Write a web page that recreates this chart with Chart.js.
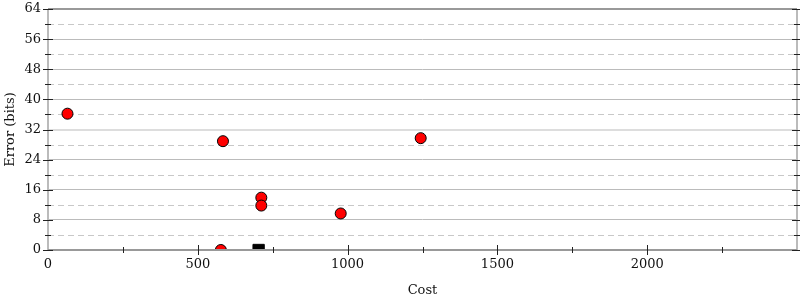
<!DOCTYPE html>
<html lang="en">
<head>
<meta charset="UTF-8">
<title>Error vs Cost</title>
<script src="https://cdn.jsdelivr.net/npm/chart.js"></script>
<style>
  html, body { margin: 0; padding: 0; background: #fff; overflow: hidden; }
  #wrap { width: 806px; height: 300px; }
</style>
</head>
<body>
<div id="wrap"><canvas id="chart"></canvas></div>
<script>
// measured points (cost, error in bits)
const costs = [65, 584, 577, 712, 712, 977, 1244];
const errors = [36.2, 28.9, 0, 13.9, 11.8, 9.7, 29.7];
// reference point (black square)
const refCost = [703];
const refError = [0];
const xMax = 2500;
const yMax = 64;
const xLabelStep = 500;
const yLabelStep = 8;

const font = { family: "'DejaVu Serif', serif", size: 13 };

// dashed minor grid, axis lines and tick marks on both sides of the axes
const axisDecor = {
    id: 'axisDecor',
    beforeDatasetsDraw(chart) {
        const { ctx, chartArea: a, scales: { y } } = chart;
        ctx.save();
        ctx.strokeStyle = '#c8c8c8';
        ctx.lineWidth = 1;
        ctx.setLineDash([6, 4]);
        y.ticks.forEach(t => {
            if (t.value % yLabelStep === 0) return;
            const py = Math.round(y.getPixelForValue(t.value)) + 0.5;
            ctx.beginPath();
            ctx.moveTo(a.left, py);
            ctx.lineTo(a.right, py);
            ctx.stroke();
        });
        ctx.restore();
    },
    afterDatasetsDraw(chart) {
        const { ctx, chartArea: a, scales: { x, y } } = chart;
        ctx.save();
        ctx.lineWidth = 2;
        ctx.strokeStyle = '#bbbbbb';
        ctx.beginPath();
        ctx.moveTo(a.left, a.top); ctx.lineTo(a.left, a.bottom);
        ctx.moveTo(a.right, a.top); ctx.lineTo(a.right, a.bottom);
        ctx.stroke();
        ctx.strokeStyle = '#999999';
        ctx.beginPath();
        ctx.moveTo(a.left, a.bottom); ctx.lineTo(a.right, a.bottom);
        ctx.stroke();

        ctx.strokeStyle = '#222';
        ctx.lineWidth = 1;
        y.ticks.forEach(t => {
            const py = Math.round(y.getPixelForValue(t.value)) + 0.5;
            const len = t.value % yLabelStep === 0 ? 5 : 3;
            ctx.beginPath();
            ctx.moveTo(a.left - len, py); ctx.lineTo(a.left + len, py);
            ctx.moveTo(a.right - len, py); ctx.lineTo(a.right + len, py);
            ctx.stroke();
        });
        x.ticks.forEach(t => {
            if (t.value === 0 || t.value === xMax) return;
            const px = Math.round(x.getPixelForValue(t.value)) + 0.5;
            const len = t.value % xLabelStep === 0 ? 5 : 3;
            ctx.beginPath();
            ctx.moveTo(px, a.bottom - len); ctx.lineTo(px, a.bottom + len);
            ctx.stroke();
        });
        ctx.restore();
    }
};

new Chart(document.getElementById('chart'), {
    type: 'scatter',
    data: {
        datasets: [
            {
                label: 'measured',
                data: costs.map((c, i) => ({ x: c, y: errors[i] })),
                backgroundColor: '#ff0000',
                borderColor: '#000',
                borderWidth: 1,
                pointRadius: 5.5,
                pointHoverRadius: 5.5,
                clip: 0
            },
            {
                label: 'reference',
                data: refCost.map((c, i) => ({ x: c, y: refError[i] })),
                pointStyle: 'rect',
                backgroundColor: '#000',
                borderColor: '#000',
                borderWidth: 1,
                pointRadius: 8,
                pointHoverRadius: 8,
                clip: 0
            }
        ]
    },
    options: {
        responsive: true,
        maintainAspectRatio: false,
        animation: false,
        layout: { padding: { top: 7, right: 3 } },
        plugins: {
            legend: { display: false },
            tooltip: { enabled: false }
        },
        scales: {
            x: {
                type: 'linear',
                min: 0,
                max: xMax,
                afterFit: s => { s.height = 50; s.paddingLeft = 0; s.paddingRight = 0; },
                border: { display: false },
                grid: { drawOnChartArea: false, drawTicks: false },
                ticks: {
                    stepSize: 250,
                    padding: 7,
                    color: '#111',
                    font: font,
                    maxRotation: 0,
                    autoSkip: false,
                    callback: v => (v % xLabelStep === 0 && v < xMax ? v : '')
                },
                title: {
                    display: true,
                    text: 'Cost',
                    color: '#111',
                    font: font,
                    padding: { top: 4, bottom: 2 }
                }
            },
            y: {
                min: 0,
                max: yMax,
                afterFit: s => { s.width = 48; s.paddingTop = 0; s.paddingBottom = 0; },
                border: { display: false },
                grid: {
                    drawTicks: false,
                    color: c => {
                        const v = c.tick ? c.tick.value : -1;
                        if (v === yMax) return '#999999';
                        if (v === 32) return '#dddddd';
                        if (v <= 0 || v % yLabelStep !== 0) return 'rgba(0,0,0,0)';
                        return '#bbbbbb';
                    },
                    lineWidth: c => {
                        const v = c.tick ? c.tick.value : -1;
                        return v === yMax || v === 32 ? 2 : 1;
                    }
                },
                ticks: {
                    stepSize: 4,
                    padding: 7,
                    color: '#111',
                    font: font,
                    autoSkip: false,
                    callback: v => (v % yLabelStep === 0 ? v : '')
                },
                title: {
                    display: true,
                    text: 'Error (bits)',
                    color: '#111',
                    font: font,
                    padding: { top: 3, bottom: 2 }
                }
            }
        }
    },
    plugins: [axisDecor]
});
</script>
</body>
</html>
